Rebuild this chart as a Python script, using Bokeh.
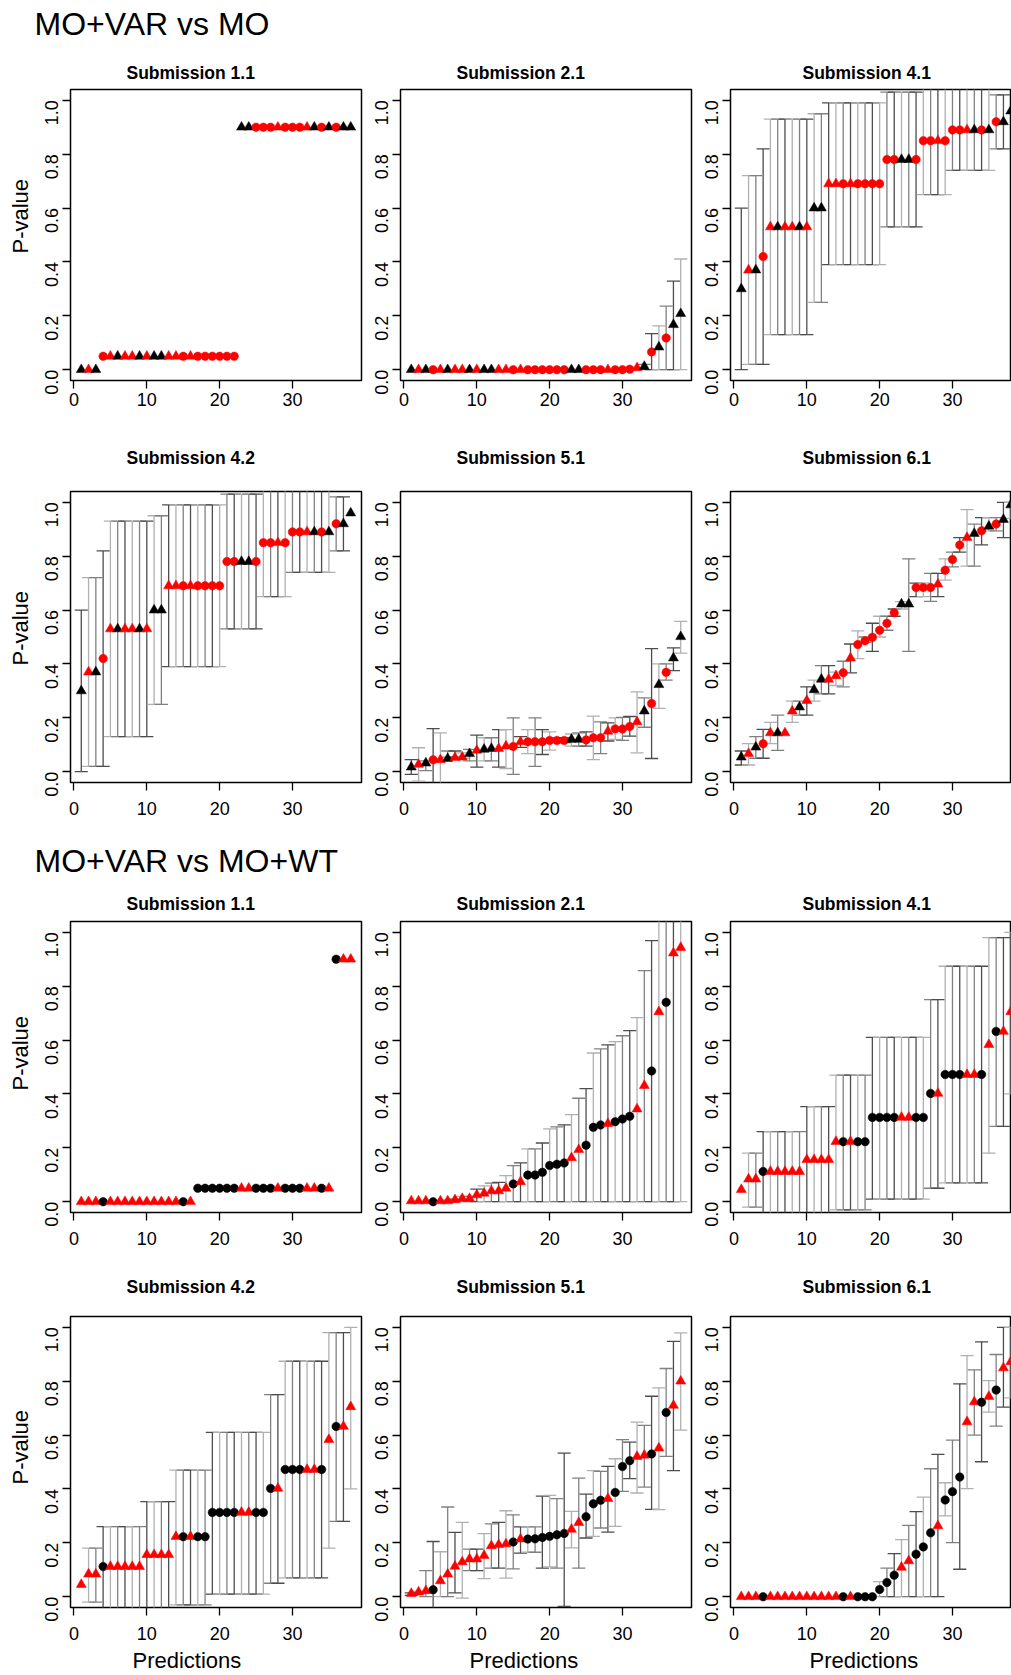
import math
from bokeh.plotting import figure
from bokeh.models import Range1d, FixedTicker, ColumnDataSource, PrintfTickFormatter, Title
from bokeh.layouts import column, row
from bokeh.embed import file_html
from bokeh.resources import INLINE
from bokeh.core.properties import value

# ---------------- data ----------------
predictions = list(range(1, 39))

marker_kind = ["triangle", "triangle", "triangle", "circle", "triangle", "triangle", "triangle", "triangle",
               "triangle", "triangle", "triangle", "triangle", "triangle", "triangle", "circle", "triangle",
               "circle", "circle", "circle", "circle", "circle", "circle", "triangle", "triangle",
               "circle", "circle", "circle", "triangle", "circle", "circle", "circle", "triangle",
               "triangle", "circle", "triangle", "circle", "triangle", "triangle"]

# colours for "MO+VAR vs MO"
colour_mo = ["black", "red", "black", "red", "red", "black", "red", "red", "black", "red",
             "black", "black", "red", "red", "red", "red", "red", "red", "red", "red",
             "red", "red", "black", "black", "red", "red", "red", "red", "red", "red",
             "red", "red", "black", "red", "black", "red", "black", "black"]
# colours for "MO+VAR vs MO+WT"
colour_wt = ["red", "red", "red", "black", "red", "red", "red", "red", "red", "red",
             "red", "red", "red", "red", "black", "red", "black", "black", "black", "black",
             "black", "black", "red", "red", "black", "black", "black", "red", "black", "black",
             "black", "red", "red", "black", "red", "black", "red", "red"]

# ---- MO+VAR vs MO ----
mo_11_y = [0.0, 0.0, 0.0, 0.05, 0.05, 0.05, 0.05, 0.05, 0.05, 0.05, 0.05, 0.05, 0.05, 0.05, 0.05, 0.05,
           0.05, 0.05, 0.05, 0.05, 0.05, 0.05, 0.9, 0.9, 0.9, 0.9, 0.9, 0.9, 0.9, 0.9, 0.9, 0.9,
           0.9, 0.9, 0.9, 0.9, 0.9, 0.9]
mo_11_lo = [None] * 38
mo_11_hi = [None] * 38

mo_21_y = [0.0, 0.0, 0.0, 0.0, 0.0, 0.0, 0.0, 0.0, 0.0, 0.0, 0.0, 0.0, 0.0, 0.0, 0.0, 0.0,
           0.0, 0.0, 0.0, 0.0, 0.0, 0.0, 0.0, 0.0, 0.0, 0.0, 0.0, 0.0, 0.0, 0.0, 0.002, 0.007,
           0.012, 0.066, 0.084, 0.118, 0.167, 0.208]
mo_21_lo = [None] * 32 + [0.0, 0.0, 0.0, 0.0, 0.0, 0.0]
mo_21_hi = [None] * 32 + [0.02, 0.134, 0.163, 0.236, 0.329, 0.411]

mo_41_y = [0.30, 0.37, 0.37, 0.42, 0.53, 0.53, 0.53, 0.53, 0.53, 0.53, 0.60, 0.60, 0.69, 0.69, 0.69, 0.69,
           0.69, 0.69, 0.69, 0.69, 0.78, 0.78, 0.78, 0.78, 0.78, 0.85, 0.85, 0.85, 0.85, 0.89, 0.89, 0.89,
           0.89, 0.89, 0.89, 0.92, 0.92, 0.96]
mo_41_lo = [0.0, 0.02, 0.02, 0.02, 0.13, 0.13, 0.13, 0.13, 0.13, 0.13, 0.25, 0.25, 0.39, 0.39, 0.39, 0.39,
            0.39, 0.39, 0.39, 0.39, 0.53, 0.53, 0.53, 0.53, 0.53, 0.65, 0.65, 0.65, 0.65, 0.74, 0.74, 0.74,
            0.74, 0.74, 0.74, 0.82, 0.82, None]
mo_41_hi = [0.60, 0.72, 0.72, 0.82, 0.93, 0.93, 0.93, 0.93, 0.93, 0.93, 0.95, 0.95, 0.99, 0.99, 0.99, 0.99,
            0.99, 0.99, 0.99, 0.99, 1.03, 1.03, 1.03, 1.03, 1.03, 1.045, 1.045, 1.045, 1.045, 1.1, 1.1, 1.1,
            1.1, 1.1, 1.1, 1.02, 1.02, None]

mo_42_y = mo_41_y
mo_42_lo = mo_41_lo
mo_42_hi = mo_41_hi

mo_51_y = [0.017, 0.027, 0.032, 0.044, 0.044, 0.049, 0.052, 0.054, 0.067, 0.079, 0.083, 0.086, 0.086,
           0.095, 0.094, 0.111, 0.111, 0.111, 0.111, 0.116, 0.116, 0.116, 0.12, 0.12, 0.118, 0.126,
           0.126, 0.15, 0.159, 0.159, 0.168, 0.185, 0.225, 0.253, 0.323, 0.369, 0.422, 0.501]
mo_51_lo = [-0.01, -0.035, 0.004, -0.05, -0.05, 0.054, 0.054, 0.05, 0.04, 0.017, 0.04, 0.04, 0.017,
            0.012, -0.01, 0.09, 0.067, 0.02, 0.064, 0.08, 0.108, 0.108, 0.095, 0.095, 0.095, 0.045,
            0.067, 0.114, 0.12, 0.116, 0.132, 0.07, 0.165, 0.049, 0.235, 0.34, 0.375, 0.44]
mo_51_hi = [0.045, 0.089, 0.04, 0.16, 0.144, 0.077, 0.077, 0.07, 0.083, 0.136, 0.126, 0.126, 0.156,
            0.156, 0.2, 0.13, 0.156, 0.2, 0.156, 0.148, 0.126, 0.126, 0.14, 0.144, 0.148, 0.206,
            0.185, 0.181, 0.2, 0.202, 0.205, 0.296, 0.274, 0.457, 0.40, 0.40, 0.46, 0.558]

mo_61_y = [0.054, 0.067, 0.091, 0.104, 0.144, 0.144, 0.144, 0.225, 0.24, 0.264, 0.304, 0.343, 0.343,
           0.356, 0.367, 0.422, 0.472, 0.486, 0.499, 0.525, 0.551, 0.59, 0.622, 0.622, 0.684, 0.684,
           0.684, 0.696, 0.748, 0.788, 0.841, 0.869, 0.884, 0.894, 0.911, 0.919, 0.936, 0.99]
mo_61_lo = [0.025, 0.025, 0.05, 0.05, 0.104, 0.079, None, 0.183, 0.21, 0.21, 0.262, 0.289, 0.289,
            0.32, 0.315, 0.367, 0.42, 0.48, 0.447, 0.5, 0.525, 0.577, 0.604, 0.447, 0.65, 0.65,
            0.632, 0.65, 0.711, 0.76, 0.815, 0.763, 0.763, 0.842, 0.894, 0.894, 0.869, 0.94]
mo_61_hi = [0.077, 0.104, 0.13, 0.157, 0.183, 0.21, None, 0.262, 0.262, 0.315, 0.34, 0.394, 0.394,
            0.37, 0.41, 0.474, 0.523, 0.50, 0.551, 0.577, 0.577, 0.604, 0.631, 0.79, 0.70, 0.70,
            0.736, 0.736, 0.79, 0.815, 0.869, 0.973, 0.919, 0.943, 0.943, 0.943, 1.0, 1.0]

# ---- MO+VAR vs MO+WT ----
wt_11_y = [0.0, 0.0, 0.0, 0.0, 0.0, 0.0, 0.0, 0.0, 0.0, 0.0, 0.0, 0.0, 0.0, 0.0, 0.0, 0.0,
           0.05, 0.05, 0.05, 0.05, 0.05, 0.05, 0.05, 0.05, 0.05, 0.05, 0.05, 0.05, 0.05, 0.05, 0.05, 0.05,
           0.05, 0.05, 0.05, 0.9, 0.9, 0.9]
wt_11_lo = [None] * 38
wt_11_hi = [None] * 38

wt_21_y = [0.003, 0.003, 0.003, 0.0, 0.003, 0.003, 0.007, 0.012, 0.012, 0.025, 0.031, 0.04, 0.04,
           0.05, 0.066, 0.074, 0.099, 0.099, 0.109, 0.134, 0.139, 0.144, 0.163, 0.193, 0.21, 0.276,
           0.285, 0.29, 0.297, 0.307, 0.317, 0.344, 0.431, 0.485, 0.705, 0.74, 0.923, 0.943]
wt_21_lo = [None, None, None, None] + [0.0] * 34
wt_21_hi = [None, None, None, None, 0.004, 0.006, 0.01, 0.02, 0.02, 0.047, 0.059, 0.069, 0.072,
            0.097, 0.134, 0.144, 0.196, 0.196, 0.218, 0.27, 0.278, 0.285, 0.323, 0.384, 0.42, 0.552,
            0.567, 0.582, 0.594, 0.616, 0.635, 0.683, 0.858, 0.969, 1.1, 1.1, 1.1, 1.1]

wt_41_y = [0.045, 0.084, 0.084, 0.112, 0.112, 0.112, 0.112, 0.112, 0.112, 0.156, 0.156, 0.156, 0.156,
           0.223, 0.223, 0.223, 0.223, 0.223, 0.313, 0.313, 0.313, 0.313, 0.313, 0.313, 0.313, 0.313,
           0.402, 0.402, 0.472, 0.472, 0.472, 0.472, 0.472, 0.472, 0.583, 0.632, 0.632, 0.705]
wt_41_lo = [None, -0.02, -0.02, -0.06, -0.06, -0.06, -0.06, -0.06, -0.06, -0.06, -0.06, -0.06, -0.06,
            -0.03, -0.03, -0.03, -0.03, -0.03, 0.01, 0.01, 0.01, 0.01, 0.01, 0.01, 0.01, 0.01,
            0.05, 0.05, 0.07, 0.07, 0.07, 0.07, 0.07, 0.07, 0.18, 0.28, 0.28, 0.40]
wt_41_hi = [None, 0.18, 0.18, 0.26, 0.26, 0.26, 0.26, 0.26, 0.26, 0.353, 0.353, 0.353, 0.353,
            0.47, 0.47, 0.47, 0.47, 0.47, 0.61, 0.61, 0.61, 0.61, 0.61, 0.61, 0.61, 0.61,
            0.75, 0.75, 0.874, 0.874, 0.874, 0.874, 0.874, 0.874, 0.98, 0.98, 0.98, 1.0]

wt_42_y = wt_41_y
wt_42_lo = wt_41_lo
wt_42_hi = wt_41_hi

wt_51_y = [0.012, 0.017, 0.022, 0.026, 0.059, 0.084, 0.113, 0.129, 0.14, 0.14, 0.153, 0.189, 0.193,
           0.196, 0.203, 0.214, 0.214, 0.215, 0.22, 0.224, 0.23, 0.235, 0.25, 0.275, 0.297, 0.345,
           0.358, 0.364, 0.387, 0.483, 0.505, 0.52, 0.525, 0.53, 0.552, 0.684, 0.71, 0.80]
wt_51_lo = [0.005, 0.01, 0.0, -0.05, 0.0, 0.0, 0.014, -0.005, 0.097, 0.097, 0.067, 0.106, 0.106,
            0.069, 0.103, 0.162, 0.165, 0.165, 0.106, 0.111, 0.106, -0.036, 0.181, 0.106, 0.218, 0.224,
            0.255, 0.24, 0.261, 0.391, 0.438, 0.385, 0.407, 0.324, 0.323, 0.521, 0.468, 0.618]
wt_51_hi = [0.014, 0.02, 0.097, 0.205, 0.167, 0.333, 0.239, 0.276, 0.177, 0.177, 0.234, 0.27, 0.276,
            0.319, 0.304, 0.259, 0.259, 0.259, 0.373, 0.376, 0.364, 0.533, 0.317, 0.44, 0.381, 0.468,
            0.465, 0.484, 0.512, 0.583, 0.574, 0.648, 0.636, 0.744, 0.775, 0.847, 0.948, 0.979]

wt_61_y = [0.0, 0.0, 0.0, 0.0, 0.0, 0.0, 0.0, 0.0, 0.0, 0.0, 0.0, 0.0, 0.0, 0.0, 0.0, 0.0,
           0.0, 0.0, 0.0, 0.027, 0.053, 0.08, 0.109, 0.133, 0.158, 0.185, 0.237, 0.263, 0.359, 0.39,
           0.444, 0.649, 0.723, 0.722, 0.743, 0.767, 0.849, 0.872]
wt_61_lo = [None] * 19 + [0.0, 0.0, 0.0, 0.0, 0.0, 0.0, 0.0, 0.0, 0.0, 0.30, 0.201, 0.102,
                          0.401, 0.60, 0.501, 0.685, 0.633, 0.704, 0.738]
wt_61_hi = [None] * 19 + [0.056, 0.106, 0.16, 0.212, 0.265, 0.316, 0.37, 0.475, 0.528, 0.423, 0.581,
                          0.79, 0.895, 0.842, 0.946, 0.802, 0.899, 1.0, 1.0]

y_ticks = [0.0, 0.2, 0.4, 0.6, 0.8, 1.0]
x_ticks = [0, 10, 20, 30]

# ---------------- styling / layout ----------------
FONT = "Liberation Sans"
RED = "#ff0000"
BLACK = "#000000"
GREYS = ["#4d4d4d", "#b0b0b0", "#808080"]
CAP = 0.9
FRAME_H = 291
PX_PER_UNIT = 291 / 39.96

# toff: left offset of panel title inside the frame width; poff: same for "Predictions"
COLS = [
    dict(left=70, right=2, fw=291, x0=-0.48, x1=39.48, ylabel=True, toff=56, poff=62),
    dict(left=37, right=2, fw=291, x0=-0.48, x1=39.48, ylabel=False, toff=56, poff=69),
    dict(left=37, right=1, fw=280, x0=-0.48, x1=-0.48 + 280 / PX_PER_UNIT, ylabel=False, toff=72, poff=79),
]
# yoff: distance from frame bottom to the start of the rotated "P-value"
ROWS = [
    dict(top=44, bottom=42, standoff=13, xstand=4, xlabel=False, yoff=127),
    dict(top=69, bottom=42, standoff=47, xstand=11, xlabel=False, yoff=117),
    dict(top=41, bottom=42, standoff=16, xstand=11, xlabel=False, yoff=122),
    dict(top=62, bottom=68, standoff=40, xstand=11, xlabel=True, yoff=123),
]


def panel(title, ys, lo, hi, colours, c, r):
    cc, rc = COLS[c], ROWS[r]
    p = figure(frame_width=cc["fw"], frame_height=FRAME_H,
               x_range=Range1d(cc["x0"], cc["x1"]), y_range=Range1d(-0.04, 1.04),
               output_backend="svg", toolbar_location=None,
               min_border_left=cc["left"], min_border_right=cc["right"],
               min_border_top=rc["top"], min_border_bottom=rc["bottom"])
    p.background_fill_color = "white"
    p.border_fill_color = "white"
    p.grid.visible = False
    p.outline_line_color = "black"
    p.outline_line_width = 1.5

    p.title.text = title
    p.title.align = "left"
    p.title.offset = cc["toff"]
    p.title.text_font = FONT
    p.title.text_font_style = "bold"
    p.title.text_font_size = "17.5px"
    p.title.text_color = "black"
    p.title.standoff = rc["standoff"]

    for ax in (p.xaxis[0], p.yaxis[0]):
        ax.axis_line_color = None
        ax.major_tick_out = 8
        ax.major_tick_in = 0
        ax.minor_tick_line_color = None
        ax.major_tick_line_color = "black"
        ax.major_tick_line_width = 1.3
        ax.major_label_text_font = FONT
        ax.major_label_text_font_size = "18px"
        ax.major_label_text_color = "black"
    p.xaxis.ticker = FixedTicker(ticks=x_ticks)
    p.xaxis.major_label_standoff = rc["xstand"]
    p.yaxis.ticker = FixedTicker(ticks=y_ticks)
    p.yaxis.formatter = PrintfTickFormatter(format="%.1f")
    p.yaxis.major_label_orientation = math.pi / 2
    p.yaxis.major_label_standoff = 11
    if cc["ylabel"]:
        p.add_layout(Title(text="P-value", align="left", offset=rc["yoff"], standoff=5,
                           text_font=FONT, text_font_size="22px", text_font_style="normal",
                           text_color="black"), "left")
    if rc["xlabel"]:
        p.add_layout(Title(text="Predictions", align="left", offset=cc["poff"], standoff=6,
                           text_font=FONT, text_font_size="22px", text_font_style="normal",
                           text_color="black"), "below")

    # error bars
    bx, bl, bh, bxl, bxr, bc = [], [], [], [], [], []
    for i, (x, l, h) in enumerate(zip(predictions, lo, hi)):
        if l is None or h is None:
            continue
        bx.append(x); bl.append(l); bh.append(h)
        bxl.append(x - CAP); bxr.append(x + CAP)
        bc.append(GREYS[i % 3])
    bars = ColumnDataSource(dict(x=bx, lo=bl, hi=bh, xl=bxl, xr=bxr, c=bc))
    p.segment(x0="x", y0="lo", x1="x", y1="hi", line_color="c", line_width=1.3, source=bars)
    p.segment(x0="xl", y0="hi", x1="xr", y1="hi", line_color="c", line_width=1.3, source=bars)
    p.segment(x0="xl", y0="lo", x1="xr", y1="lo", line_color="c", line_width=1.3, source=bars)

    # points
    cols = [RED if k == "red" else BLACK for k in colours]
    sizes = [10 if m == "triangle" else 8.5 for m in marker_kind]
    pts = ColumnDataSource(dict(x=predictions, y=ys, m=marker_kind, c=cols, s=sizes))
    p.scatter(x="x", y="y", marker="m", size="s", fill_color="c", line_color="c", line_width=0.5, source=pts)
    return p


def heading(text, h, from_top):
    p = figure(width=1011, height=h, x_range=Range1d(0, 1011), y_range=Range1d(0, h),
               output_backend="svg", toolbar_location=None, min_border=0,
               x_axis_location=None, y_axis_location=None)
    p.grid.visible = False
    p.outline_line_color = None
    p.text(x=[34], y=[h - from_top], text=[text], text_font=value(FONT), text_font_size="32px",
           text_baseline="middle", text_align="left", text_color="black")
    return p


h1 = heading("MO+VAR vs MO", 45, 23.5)
r1 = row(panel("Submission 1.1", mo_11_y, mo_11_lo, mo_11_hi, colour_mo, 0, 0),
         panel("Submission 2.1", mo_21_y, mo_21_lo, mo_21_hi, colour_mo, 1, 0),
         panel("Submission 4.1", mo_41_y, mo_41_lo, mo_41_hi, colour_mo, 2, 0))
r2 = row(panel("Submission 4.2", mo_42_y, mo_42_lo, mo_42_hi, colour_mo, 0, 1),
         panel("Submission 5.1", mo_51_y, mo_51_lo, mo_51_hi, colour_mo, 1, 1),
         panel("Submission 6.1", mo_61_y, mo_61_lo, mo_61_hi, colour_mo, 2, 1))
h2 = heading("MO+VAR vs MO+WT", 56, 36.3)
r3 = row(panel("Submission 1.1", wt_11_y, wt_11_lo, wt_11_hi, colour_wt, 0, 2),
         panel("Submission 2.1", wt_21_y, wt_21_lo, wt_21_hi, colour_wt, 1, 2),
         panel("Submission 4.1", wt_41_y, wt_41_lo, wt_41_hi, colour_wt, 2, 2))
r4 = row(panel("Submission 4.2", wt_42_y, wt_42_lo, wt_42_hi, colour_wt, 0, 3),
         panel("Submission 5.1", wt_51_y, wt_51_lo, wt_51_hi, colour_wt, 1, 3),
         panel("Submission 6.1", wt_61_y, wt_61_lo, wt_61_hi, colour_wt, 2, 3))

layout = column(h1, r1, r2, h2, r3, r4)
open("out.html", "w").write(file_html(layout, INLINE))
